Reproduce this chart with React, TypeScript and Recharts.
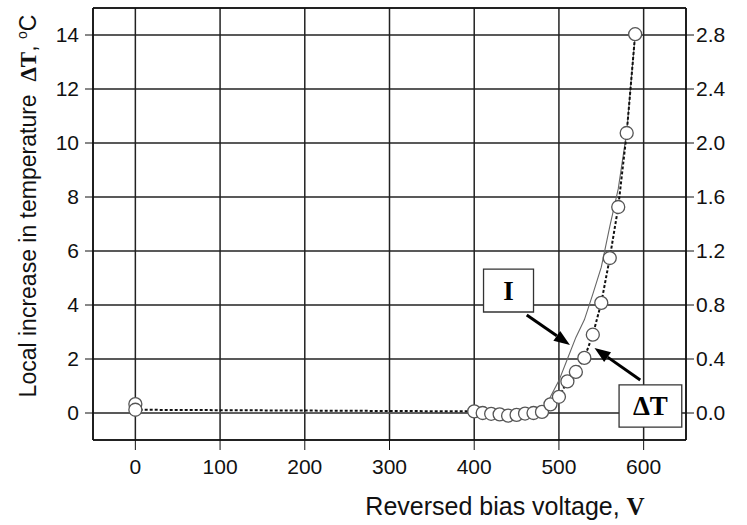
import React from "react";
import {
  ComposedChart,
  Line,
  XAxis,
  YAxis,
  CartesianGrid,
  ReferenceArea,
  ReferenceLine,
} from "recharts";

// ΔT measurements (open circles, dotted line), left axis, °C
const VOLT_DT = [0, 0, 400, 410, 420, 430, 440, 450, 460, 470, 480, 490, 500, 510, 520, 530, 540, 550, 560, 570, 580, 590];
const DELTA_T = [0.33, 0.12, 0.06, 0.0, -0.03, -0.05, -0.1, -0.07, -0.02, 0.0, 0.04, 0.32, 0.6, 1.17, 1.52, 2.04, 2.9, 4.08, 5.74, 7.63, 10.37, 14.03];

// reverse current I (thin grey line), right axis
const VOLT_I = [0, 100, 200, 300, 400, 450, 480, 490, 500, 510, 520, 530, 540, 550, 560, 570, 580, 590];
const CURRENT = [0, 0, 0, 0, 0, 0, 0.01, 0.12, 0.24, 0.4, 0.56, 0.69, 0.88, 1.08, 1.38, 1.66, 2.08, 2.8];

const X_TICKS = [0, 100, 200, 300, 400, 500, 600];
const LEFT_TICKS = [0, 2, 4, 6, 8, 10, 12, 14];
const RIGHT_TICKS = [0, 0.4, 0.8, 1.2, 1.6, 2.0, 2.4, 2.8];

const dtData = VOLT_DT.map((x, i) => ({ x, y: DELTA_T[i] }));
const iData = VOLT_I.map((x, i) => ({ x, y: CURRENT[i] }));

const SANS = "'Liberation Sans', Arial, sans-serif";
const SERIF = "'Liberation Serif', 'Times New Roman', serif";
const TICK = { fill: "#111", fontSize: 21, fontFamily: SANS };

const ringDot = (p: any) => (
  <circle key={`d${p.index}`} cx={p.cx} cy={p.cy} r={6.5} fill="#fff" stroke="#555" strokeWidth={1.3} />
);

const arrow = (p: any) => {
  const { x1, y1, x2, y2 } = p;
  const dx = x2 - x1;
  const dy = y2 - y1;
  const len = Math.sqrt(dx * dx + dy * dy) || 1;
  const ux = dx / len;
  const uy = dy / len;
  const head = 16;
  const half = 6;
  const bx = x2 - ux * head;
  const by = y2 - uy * head;
  return (
    <g>
      <line x1={x1} y1={y1} x2={bx} y2={by} stroke="#000" strokeWidth={3} />
      <polygon
        points={`${x2},${y2} ${bx - uy * half},${by + ux * half} ${bx + uy * half},${by - ux * half}`}
        fill="#000"
      />
    </g>
  );
};

const boxLabel = (text: string) => (p: any) => {
  const vb = p.viewBox || {};
  return (
    <text
      x={vb.x + vb.width / 2}
      y={vb.y + vb.height / 2 + 9}
      textAnchor="middle"
      fontFamily={SERIF}
      fontWeight="bold"
      fontSize={27}
      fill="#000"
    >
      {text}
    </text>
  );
};

const yLabel = () => (
  <text
    transform="translate(36,206) rotate(-90)"
    textAnchor="middle"
    fontFamily={SANS}
    fontSize={23}
    fill="#111"
  >
    Local increase in temperature{"\u00a0\u00a0"}
    <tspan fontFamily={SERIF} fontWeight="bold">ΔT</tspan>
    {", "}
    <tspan fontSize={14} dy={-9}>o</tspan>
    <tspan dy={9}>C</tspan>
  </text>
);

const xLabel = () => (
  <text x={505} y={515} textAnchor="middle" fontFamily={SANS} fontSize={25} fill="#111">
    Reversed bias voltage,{" "}
    <tspan fontFamily={SERIF} fontWeight="bold">V</tspan>
  </text>
);

export default function App() {
  return (
    <div style={{ position: "absolute", left: 0, top: 0, width: 747, height: 525, background: "#fff" }}>
      <ComposedChart width={747} height={525} margin={{ top: 8, right: 0, bottom: 0, left: 0 }}>
        <CartesianGrid yAxisId="left" stroke="#222" strokeWidth={1.5} />
        <XAxis
          type="number"
          dataKey="x"
          domain={[-50, 650]}
          ticks={X_TICKS}
          allowDataOverflow
          height={85}
          tick={TICK}
          tickSize={10}
          tickMargin={9}
          stroke="#111"
          axisLine={{ stroke: "#111", strokeWidth: 1.6 }}
          label={xLabel}
        />
        <YAxis
          yAxisId="left"
          domain={[-1, 15]}
          ticks={LEFT_TICKS}
          allowDataOverflow
          width={93}
          tick={TICK}
          tickSize={8}
          tickMargin={6}
          stroke="#111"
          axisLine={{ stroke: "#111", strokeWidth: 1.6 }}
          label={yLabel}
        />
        <YAxis
          yAxisId="right"
          orientation="right"
          domain={[-0.2, 3.0]}
          ticks={RIGHT_TICKS}
          allowDataOverflow
          width={61}
          tick={TICK}
          tickSize={8}
          tickMargin={2}
          tickFormatter={(v) => Number(v).toFixed(1)}
          stroke="#111"
          axisLine={{ stroke: "#111", strokeWidth: 1.6 }}
        />
        <ReferenceLine yAxisId="left" y={15} stroke="#111" strokeWidth={1.6} />
        <Line
          yAxisId="right"
          data={iData}
          dataKey="y"
          type="linear"
          stroke="#666"
          strokeWidth={1.1}
          dot={false}
          isAnimationActive={false}
        />
        <Line
          yAxisId="left"
          data={dtData}
          dataKey="y"
          type="linear"
          stroke="#111"
          strokeWidth={2}
          strokeDasharray="3 2"
          dot={ringDot}
          activeDot={false}
          isAnimationActive={false}
        />
        <ReferenceArea
          yAxisId="left"
          x1={411}
          x2={470}
          y1={3.74}
          y2={5.33}
          fill="#fff"
          fillOpacity={1}
          stroke="#333"
          strokeWidth={1.3}
          label={boxLabel("I")}
        />
        <ReferenceArea
          yAxisId="left"
          x1={571}
          x2={645}
          y1={-0.52}
          y2={1.04}
          fill="#fff"
          fillOpacity={1}
          stroke="#333"
          strokeWidth={1.3}
          label={boxLabel("ΔT")}
        />
        <ReferenceLine
          yAxisId="left"
          segment={[{ x: 462, y: 3.63 }, { x: 513, y: 2.52 }]}
          shape={arrow}
        />
        <ReferenceLine
          yAxisId="left"
          segment={[{ x: 596, y: 1.22 }, { x: 542, y: 2.41 }]}
          shape={arrow}
        />
      </ComposedChart>
    </div>
  );
}
